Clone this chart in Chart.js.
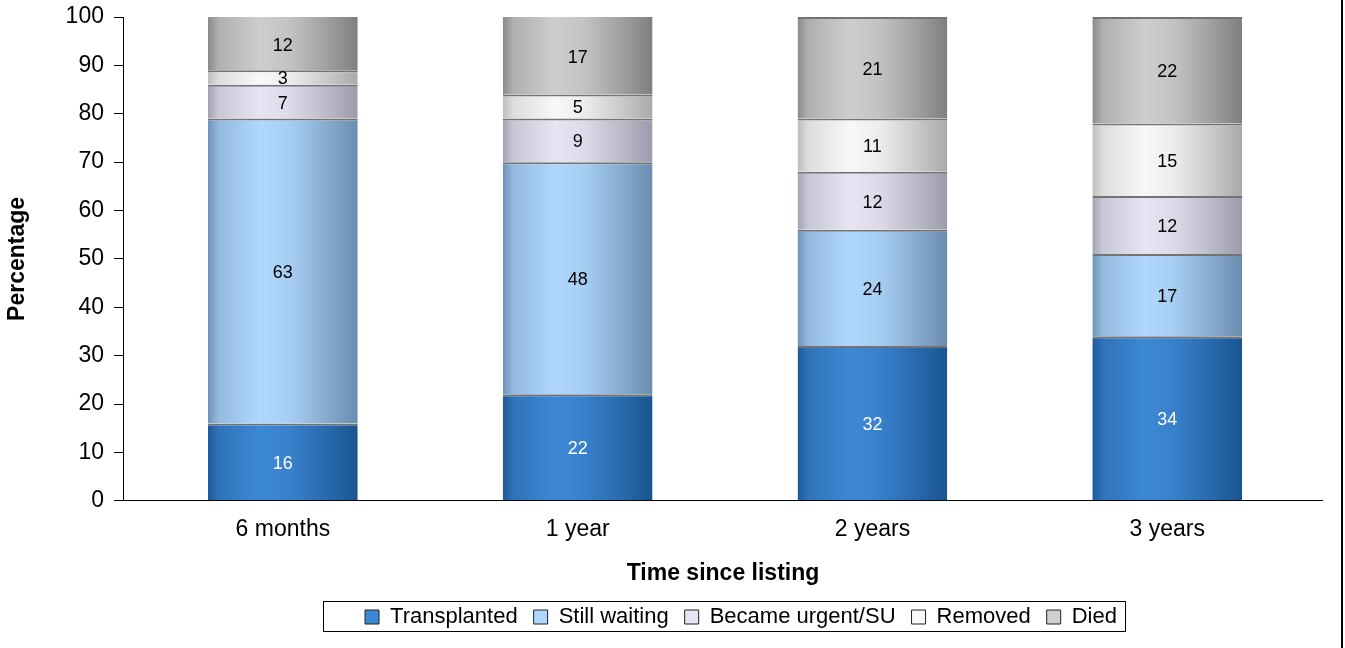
<!DOCTYPE html>
<html>
<head>
<meta charset="utf-8">
<script src="https://cdn.jsdelivr.net/npm/chart.js@4/dist/chart.umd.min.js"></script>
<style>
  html, body { margin: 0; padding: 0; background: #fff; }
  canvas { display: block; }
</style>
</head>
<body>
<canvas id="waitlist-chart" width="1345" height="648"></canvas>
<script>
// Outcomes after listing, percent of patients
const periods = ['6 months', '1 year', '2 years', '3 years'];
const transplanted = [16, 22, 32, 34];
const stillWaiting = [63, 48, 24, 17];
const becameUrgent = [7, 9, 12, 12];
const removed = [3, 5, 11, 15];
const died = [12, 17, 21, 22];
const yTicks = [0, 10, 20, 30, 40, 50, 60, 70, 80, 90, 100];

const FONT = '"Liberation Sans", Arial, sans-serif';

// left edge, highlight, right edge for the cylinder shading
const shades = {
    transplanted: ['#1d5a98', '#3d88d5', '#1a5490'],
    stillWaiting: ['#7093b8', '#b0d8fe', '#6a8cae'],
    becameUrgent: ['#a3a2b3', '#e7e5f3', '#9c9bab'],
    removed: ['#bdbdbd', '#f8f8f8', '#a9a9a9'],
    died: ['#8a8a8a', '#cecece', '#7f7f7f']
};

function mix(a, b, t) {
    const pa = [1, 3, 5].map(i => parseInt(a.substr(i, 2), 16));
    const pb = [1, 3, 5].map(i => parseInt(b.substr(i, 2), 16));
    return 'rgb(' + pa.map((v, k) => Math.round(v + (pb[k] - v) * t)).join(',') + ')';
}

function barGradient(s) {
    return function (context) {
        const chart = context.chart;
        const x = chart.scales.x;
        if (!x || context.dataIndex === undefined) return s[1];
        const center = x.getPixelForValue(context.dataIndex);
        const half = (x.getPixelForValue(1) - x.getPixelForValue(0)) * 0.254;
        const g = chart.ctx.createLinearGradient(center - half, 0, center + half, 0);
        g.addColorStop(0, s[0]);
        g.addColorStop(0.07, mix(s[0], s[1], 0.55));
        g.addColorStop(0.35, s[1]);
        g.addColorStop(0.55, mix(s[1], s[2], 0.15));
        g.addColorStop(0.8, mix(s[1], s[2], 0.6));
        g.addColorStop(1, s[2]);
        return g;
    };
}

function series(label, values, s) {
    return {
        label: label,
        data: values.map((v, i) => ({ x: i, y: v })),
        backgroundColor: barGradient(s),
        borderColor: 'rgba(55, 55, 55, 0.7)',
        borderWidth: { top: 2, bottom: 0, left: 0, right: 0 },
        borderSkipped: false,
        legendColor: s[1]
    };
}

// value labels inside each segment
const segmentLabels = {
    id: 'segmentLabels',
    afterDatasetsDraw(chart) {
        const ctx = chart.ctx;
        ctx.save();
        ctx.font = '18px ' + FONT;
        ctx.textAlign = 'center';
        ctx.textBaseline = 'middle';
        chart.data.datasets.forEach((ds, i) => {
            const meta = chart.getDatasetMeta(i);
            meta.data.forEach((bar, j) => {
                const top = Math.max(bar.y, chart.chartArea.top);
                ctx.fillStyle = i === 0 ? '#ffffff' : '#000000';
                ctx.fillText(String(ds.data[j].y), bar.x, (top + bar.base) / 2 + 2);
            });
        });
        ctx.restore();
    }
};

// nudge the legend right a little, then frame it and draw the page rule
const frame = {
    id: 'frame',
    afterLayout(chart) {
        chart.legend.left += 18;
        chart.legend.right += 18;
    },
    afterDraw(chart) {
        const ctx = chart.ctx;
        const boxes = chart.legend.legendHitBoxes;
        ctx.save();
        if (boxes && boxes.length) {
            const left = Math.min(...boxes.map(b => b.left)) - 42;
            const right = Math.max(...boxes.map(b => b.left + b.width)) + 8;
            const mid = boxes[0].top + boxes[0].height / 2;
            ctx.strokeStyle = '#000';
            ctx.lineWidth = 1;
            ctx.strokeRect(Math.round(left) + 0.5, Math.round(mid - 16) + 0.5,
                Math.round(right - left), 30);
        }
        ctx.fillStyle = '#000';
        ctx.fillRect(1341, 0, 2, chart.height);
        ctx.restore();
    }
};

new Chart(document.getElementById('waitlist-chart').getContext('2d'), {
    type: 'bar',
    data: {
        datasets: [
            series('Transplanted', transplanted, shades.transplanted),
            series('Still waiting', stillWaiting, shades.stillWaiting),
            series('Became urgent/SU', becameUrgent, shades.becameUrgent),
            series('Removed', removed, shades.removed),
            series('Died', died, shades.died)
        ]
    },
    options: {
        responsive: false,
        animation: false,
        layout: { padding: { top: 3, right: 23, left: 4, bottom: 10 } },
        datasets: {
            bar: { categoryPercentage: 1.0, barPercentage: 0.508 }
        },
        scales: {
            x: {
                type: 'linear',
                stacked: true,
                offset: false,
                min: -0.539,
                max: 3.525,
                afterBuildTicks(scale) {
                    scale.ticks = periods.map((p, i) => ({ value: i }));
                },
                grid: { display: false, offset: false },
                border: { display: true, color: '#000', width: 1 },
                ticks: {
                    color: '#000',
                    font: { family: FONT, size: 23 },
                    padding: 7,
                    callback: (value) => periods[value]
                },
                title: {
                    display: true,
                    text: 'Time since listing',
                    color: '#000',
                    font: { family: FONT, size: 23, weight: 'bold' },
                    padding: { top: 9, bottom: 3 }
                }
            },
            y: {
                stacked: true,
                min: 0,
                max: 100,
                afterBuildTicks(scale) {
                    scale.ticks = yTicks.map(v => ({ value: v }));
                },
                afterFit(scale) {
                    scale.paddingTop = 17;
                },
                grid: {
                    drawOnChartArea: false,
                    drawTicks: true,
                    tickLength: 10,
                    color: '#000'
                },
                border: { display: true, color: '#000', width: 1 },
                ticks: { color: '#000', font: { family: FONT, size: 23 }, padding: 10 },
                title: {
                    display: true,
                    text: 'Percentage',
                    color: '#000',
                    font: { family: FONT, size: 23, weight: 'bold' },
                    padding: { top: 0, bottom: 24 }
                }
            }
        },
        plugins: {
            tooltip: { enabled: false },
            legend: {
                position: 'bottom',
                fullSize: false,
                labels: {
                    color: '#000',
                    font: { family: FONT, size: 22 },
                    boxWidth: 14,
                    boxHeight: 14,
                    padding: 16,
                    generateLabels(chart) {
                        return chart.data.datasets.map((ds, i) => ({
                            text: ds.label,
                            fillStyle: ds.legendColor,
                            strokeStyle: '#222',
                            lineWidth: 1,
                            fontColor: '#000',
                            datasetIndex: i
                        }));
                    }
                }
            }
        }
    },
    plugins: [segmentLabels, frame]
});
</script>
</body>
</html>
